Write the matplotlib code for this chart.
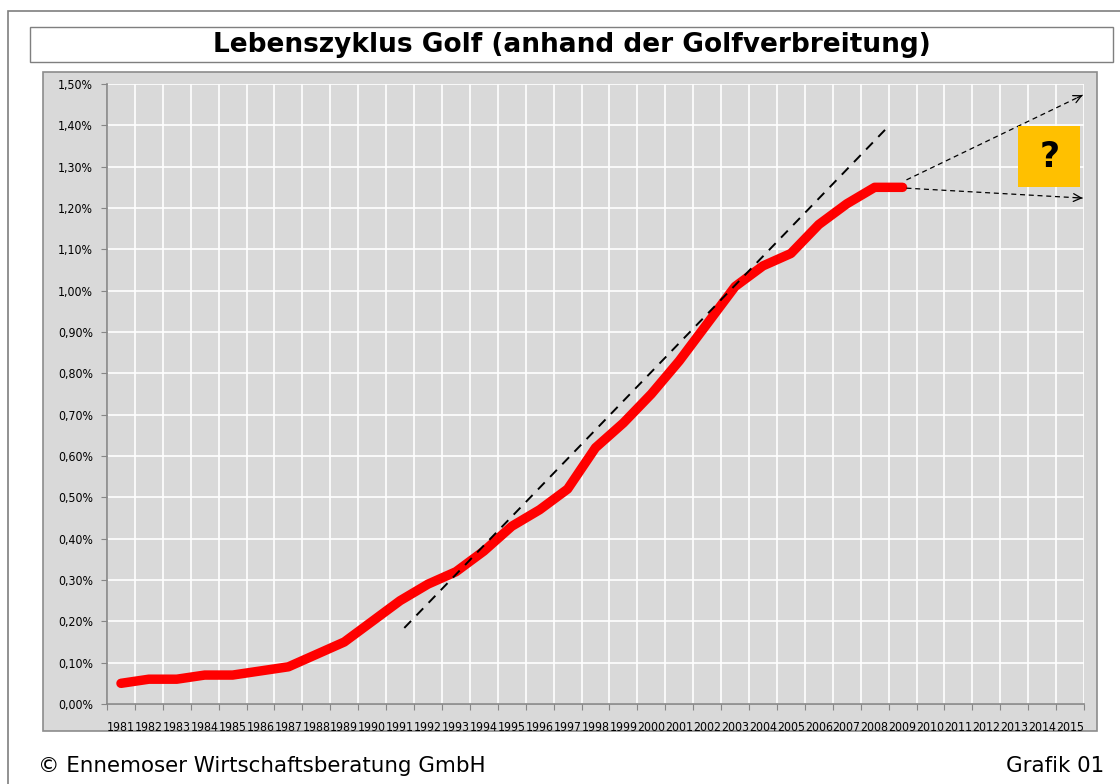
import matplotlib
matplotlib.use("Agg")
import matplotlib.pyplot as plt
from matplotlib.patches import Rectangle
from matplotlib.ticker import FuncFormatter, FixedLocator
import numpy as np

# ---- data ----
years = list(range(1981, 2016))
share_years = list(range(1981, 2010))
share_pct = [0.05, 0.06, 0.06, 0.07, 0.07, 0.08, 0.09, 0.12, 0.15, 0.20,
             0.25, 0.29, 0.32, 0.37, 0.43, 0.47, 0.52, 0.62, 0.68, 0.75,
             0.83, 0.92, 1.01, 1.06, 1.09, 1.16, 1.21, 1.25, 1.25]
trend_x = [1991.15, 2008.4]
trend_y = [0.184, 1.391]
arrow_up_x = [2009.14, 2015.45]
arrow_up_y = [1.268, 1.473]
arrow_dn_x = [2009.14, 2015.45]
arrow_dn_y = [1.248, 1.224]
qbox_x = [2013.15, 2015.37]
qbox_y = [1.251, 1.398]
y_ticks = [i / 10 for i in range(16)]

W, H = 1120, 784
fig = plt.figure(figsize=(W / 100, H / 100), dpi=100)
fig.patch.set_facecolor("white")

def fx(px):
    return px / W

def fy(py):
    return 1 - py / H

# outer frame
fig.patches.append(Rectangle((fx(8), fy(800)), fx(1130) - fx(8), fy(11) - fy(800),
                             transform=fig.transFigure, fill=False, ec="#7f7f7f", lw=1.2,
                             zorder=-10))
# title box
fig.patches.append(Rectangle((fx(30), fy(62)), fx(1113) - fx(30), fy(27) - fy(62),
                             transform=fig.transFigure, fill=False, ec="#7f7f7f", lw=1.0,
                             zorder=-10))
# chart area
fig.patches.append(Rectangle((fx(43), fy(731)), fx(1097) - fx(43), fy(72) - fy(731),
                             transform=fig.transFigure, fc="#d9d9d9", ec="#8c8c8c", lw=1.2,
                             zorder=-10))

fig.text(fx(572), fy(45), "Lebenszyklus Golf (anhand der Golfverbreitung)",
         ha="center", va="center", fontsize=19, fontweight="bold", family="DejaVu Sans")
fig.text(fx(38), fy(766), "\u00a9 Ennemoser Wirtschaftsberatung GmbH",
         ha="left", va="center", fontsize=15.4, family="DejaVu Sans")
fig.text(fx(1104), fy(766), "Grafik 01", ha="right", va="center",
         fontsize=15.4, family="DejaVu Sans")

ax = fig.add_axes([fx(107), fy(704), fx(1084) - fx(107), fy(84) - fy(704)])
ax.set_facecolor("#d9d9d9")
ax.set_xlim(1980.5, 2015.5)
ax.set_ylim(0, 1.5)

# gridlines
ax.xaxis.set_major_locator(FixedLocator([y - 0.5 for y in years] + [2015.5]))
ax.set_xticklabels([], minor=False)
ax.set_xticks(years, [str(y) for y in years], minor=True)
ax.set_yticks(y_ticks)
ax.yaxis.set_major_formatter(FuncFormatter(lambda v, p: f"{v:.2f}%".replace(".", ",")))
ax.grid(True, which="major", color="white", lw=1.2)
ax.set_axisbelow(True)

for s in ["top", "right"]:
    ax.spines[s].set_visible(False)
for s in ["left", "bottom"]:
    ax.spines[s].set_color("#868686")
    ax.spines[s].set_linewidth(1.2)

ax.tick_params(axis="x", which="major", length=4, color="#868686", direction="out")
ax.tick_params(axis="x", which="minor", length=0, pad=12, labelsize=8.8)
ax.tick_params(axis="y", which="major", length=4, color="#868686", labelsize=8.8, pad=6)
for lab in ax.get_xticklabels(minor=True) + ax.get_yticklabels():
    lab.set_family("DejaVu Sans")
    lab.set_fontstretch("condensed")

# data line
ax.plot(share_years, share_pct, color="#ff0000", lw=6.8, solid_capstyle="round",
        solid_joinstyle="round", zorder=3)

# trend line
ax.plot(trend_x, trend_y, color="black", lw=1.4, ls=(0, (5, 4)), zorder=4)

# arrows
for axs, ays in [(arrow_up_x, arrow_up_y), (arrow_dn_x, arrow_dn_y)]:
    ax.plot(axs, ays, color="black", lw=0.9, ls=(0, (4, 3)), zorder=4, clip_on=False)
    t = 0.97
    sx = axs[0] + (axs[1] - axs[0]) * t
    sy = ays[0] + (ays[1] - ays[0]) * t
    ax.annotate("", xy=(axs[1], ays[1]), xytext=(sx, sy),
                arrowprops=dict(arrowstyle="->", lw=0.9, color="black",
                                mutation_scale=14, shrinkA=0, shrinkB=0),
                annotation_clip=False, zorder=4)

# question box
ax.add_patch(Rectangle((qbox_x[0], qbox_y[0]), qbox_x[1] - qbox_x[0], qbox_y[1] - qbox_y[0],
                       fc="#ffc000", ec="none", zorder=5))
ax.text((qbox_x[0] + qbox_x[1]) / 2, (qbox_y[0] + qbox_y[1]) / 2, "?",
        ha="center", va="center", fontsize=25, fontweight="bold", zorder=6,
        family="DejaVu Sans")

fig.savefig("out.png", dpi=100)
